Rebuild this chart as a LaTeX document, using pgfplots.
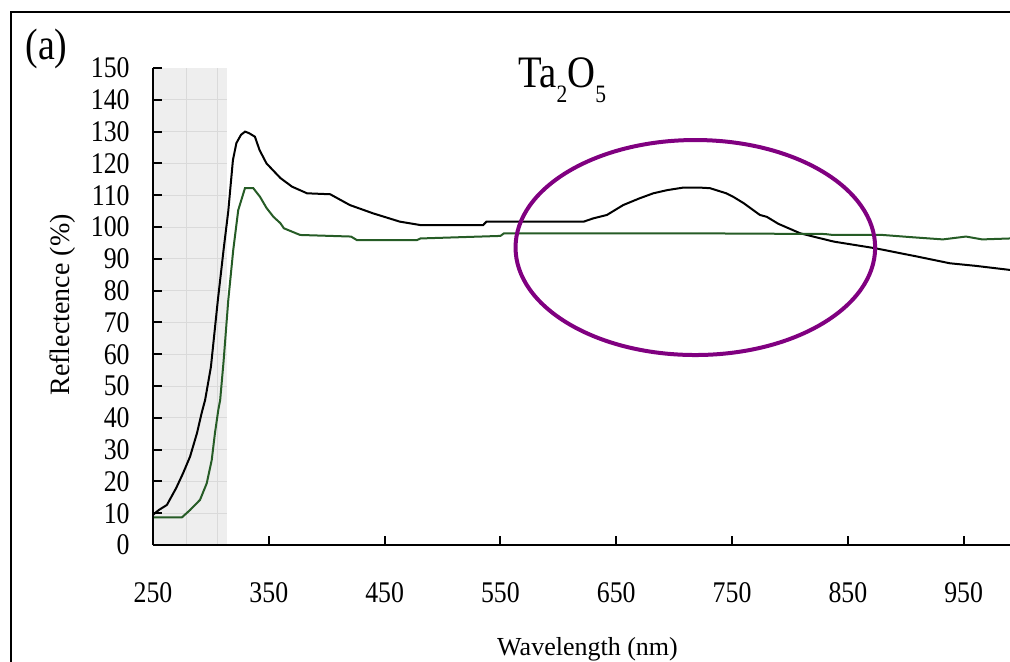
\documentclass[border=0pt]{standalone}
\usepackage{fontspec}
\setmainfont{Liberation Serif}
\newfontfamily\nfont{Liberation Serif}[FakeStretch=0.86]
\usepackage{pgfplots}
\pgfplotsset{compat=1.18}
\definecolor{dgreen}{RGB}{38,92,38}
\definecolor{ell}{RGB}{128,0,128}
\definecolor{shadecol}{RGB}{238,238,238}
\definecolor{shadegrid}{RGB}{218,218,218}

\pgfplotstableread{
x y
250 9.5
255 11
262 12.6
270 17.9
276 22.6
282 27.8
288 35.2
292 41.5
295 45.6
300 56
306 77
311 93
315 105
319 121
322 126.4
326 129
329.5 130
333 129.5
338 128.4
342 124.2
348 120
360 115.4
370 112.7
383 110.6
403 110.3
412 108.5
420 106.9
440 104.3
463 101.7
481 100.6
535 100.6
538 101.7
602 101.7
622 101.7
630 102.7
642 103.8
656 106.9
670 109
682 110.6
694 111.6
708 112.4
722 112.4
731 112.2
745 110.6
751 109.5
760 107.5
774 103.8
780 103.2
790 101
809 98
820 97
838 95.4
874 93.3
910 90.7
938 88.6
960 87.8
990 86.5
}\blackdata

\pgfplotstableread{
x y
250 8.7
275 8.7
282 11
290.6 14.2
296.4 19.4
300.7 26.7
303.5 35.2
306.4 42.5
308 45.6
311 58
315 77
319.3 92.8
323.6 105.3
329.4 112.2
336.6 112.2
342.4 109.5
348 106
354 103.2
360 101.2
363 99.6
377 97.5
421 97
426 95.9
478 95.9
481 96.4
550 97.2
553 98
722 98
830 97.8
837 97.5
880 97.5
905 96.8
932 96.1
952 97
966 96.1
990 96.4
}\greendata

\begin{document}
\begin{tikzpicture}
\useasboundingbox (-76.5pt,-58pt) rectangle (428.5pt,272.5pt);
\clip (-76.5pt,-58pt) rectangle (428.5pt,272.5pt);
\begin{axis}[
  at={(0pt,0pt)}, anchor=south west,
  x=0.57905pt, y=1.59pt,
  xmin=250, xmax=990, ymin=0, ymax=150,
  axis x line*=bottom, axis y line*=left,
  axis line style={line width=1pt, -},
  axis on top,
  tick align=inside, major tick length=4.5pt,
  tick style={line width=1pt, black},
  xtick={250,350,...,950}, ytick={0,10,...,150},
  minor tick num=0,
  /pgf/number format/assume math mode=true,
  ticklabel style={font=\nfont\fontsize{15}{15}\selectfont},
  xticklabel style={anchor=north, inner sep=0pt, yshift=-18.4pt},
  yticklabel style={anchor=east, inner sep=0pt, xshift=-11.5pt},
  clip=false,
]
\fill[shadecol] (axis cs:250,0) rectangle (axis cs:314.2,150);
\draw[shadegrid, line width=0.4pt]
  (axis cs:250,10) -- (axis cs:314.2,10)
  (axis cs:250,20) -- (axis cs:314.2,20)
  (axis cs:250,30) -- (axis cs:314.2,30)
  (axis cs:250,40) -- (axis cs:314.2,40)
  (axis cs:250,50) -- (axis cs:314.2,50)
  (axis cs:250,60) -- (axis cs:314.2,60)
  (axis cs:250,70) -- (axis cs:314.2,70)
  (axis cs:250,80) -- (axis cs:314.2,80)
  (axis cs:250,90) -- (axis cs:314.2,90)
  (axis cs:250,100) -- (axis cs:314.2,100)
  (axis cs:250,110) -- (axis cs:314.2,110)
  (axis cs:250,120) -- (axis cs:314.2,120)
  (axis cs:250,130) -- (axis cs:314.2,130)
  (axis cs:250,140) -- (axis cs:314.2,140)
  (axis cs:278.5,0) -- (axis cs:278.5,150)
  (axis cs:306,0) -- (axis cs:306,150);

\addplot[black, line width=1pt, no marks] table[x=x,y=y] {\blackdata};
\addplot[dgreen, line width=1pt, no marks] table[x=x,y=y] {\greendata};

\draw[ell, line width=2pt] (axis cs:718.3,93.55) ellipse [x radius=89.9pt, y radius=53.75pt];

\node[anchor=base west, inner sep=0pt] at (axis cs:565.2,144)
  {\nfont\fontsize{22.5}{22.5}\selectfont Ta\raisebox{-7.5pt}{\fontsize{12.5}{12.5}\selectfont 2}O\raisebox{-7.5pt}{\fontsize{12.5}{12.5}\selectfont 5}};
\node[anchor=base, inner sep=0pt] at (axis cs:158,152.8)
  {\nfont\fontsize{22}{22}\selectfont (a)};
\node[anchor=base, inner sep=0pt, rotate=90] at (axis cs:178.3,75.5)
  {\fontsize{14}{14}\selectfont Reflectence (\%)};
\node[anchor=base, inner sep=0pt] at (axis cs:625.2,-34.6)
  {\fontsize{13}{13}\selectfont Wavelength (nm)};

\draw[black, line width=1pt] (axis cs:127.4,-80) -- (axis cs:127.4,167.6) -- (axis cs:1100,167.6);
\end{axis}
\end{tikzpicture}
\end{document}
